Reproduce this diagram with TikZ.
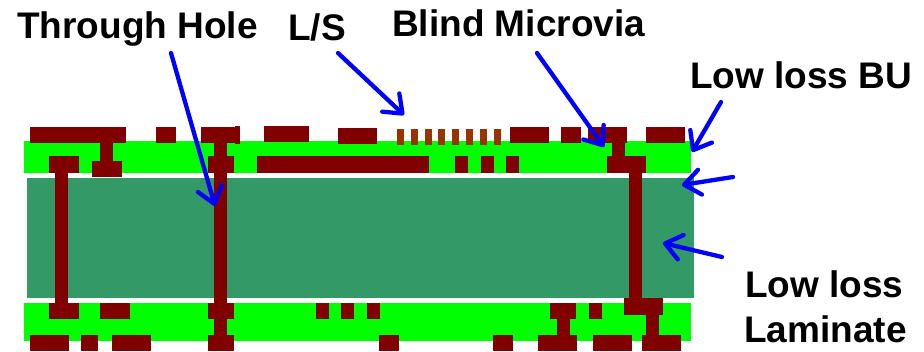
\documentclass[tikz,border=0pt]{standalone}
\usepackage{fontspec}
\setmainfont{Liberation Sans}
\usetikzlibrary{arrows.meta}
\definecolor{copper}{HTML}{800000}
\definecolor{lsline}{HTML}{993300}
\definecolor{bu}{HTML}{00FF00}
\definecolor{core}{HTML}{339966}
\definecolor{arrowblue}{HTML}{0000FF}
\tikzset{
  lbl/.style={anchor=base west,inner sep=0pt,font=\fontsize{37}{37}\selectfont\bfseries,text=black},
  callout/.style={draw=arrowblue,line width=4.3pt,line cap=round,line join=round,
    -{Straight Barb[length=16pt,width=25pt,line cap=round,round]}},
}
\newcommand{\R}[5]{\fill[#1] (#2,#3) rectangle (#4,#5);}
\begin{document}
\begin{tikzpicture}[x=1pt,y=-1pt]
\useasboundingbox (0,0) rectangle (924,351);
% dielectric layers
\R{bu}{24}{141}{691}{173}
\R{core}{27}{178}{694}{298}
\R{bu}{24}{303}{691}{341}
% top outer pads
\foreach \a/\b/\c/\d in {30/126/127/143,156/176/127/143,201/235/127/143,235/240/126/144,264/309/126/142,338/377/128/144,510/549/127/143,561/581/127/143,588/627/127/143,646/685/127/143}
  {\R{copper}{\a}{\c}{\b}{\d}}
% fine lines
\foreach \a in {397,411,425,438,452,466,480,494}
  {\pgfmathsetmacro{\e}{\a+7}\R{lsline}{\a}{129}{\e}{145}}
% top inner pads and microvias
\foreach \a/\b/\c/\d in {100/113/143/161,92/122/161/177,49/79/156/173,208/234/156/173,257/429/156/173,455/468/156/173,481/494/156/173,506/519/156/173,607/646/156/173,612/625/143/156}
  {\R{copper}{\a}{\c}{\b}{\d}}
% through vias
\foreach \a/\b/\c/\d in {55/68/173/303,214/227/143/335,629/642/173/298}
  {\R{copper}{\a}{\c}{\b}{\d}}
% bottom inner pads and microvias
\foreach \a/\b/\c/\d in {49/79/303/319,100/130/303/319,208/234/303/319,316/329/303/319,341/354/303/319,367/380/303/319,550/576/303/319,589/602/303/319,557/570/319/335,624/663/298/315,646/659/315/335}
  {\R{copper}{\a}{\c}{\b}{\d}}
% bottom outer pads
\foreach \a/\b in {30/69,81/98,112/151,208/234,379/399,493/513,538/577,593/632,642/681}
  {\R{copper}{\a}{335}{\b}{351}}
% labels
\node[lbl] (th) at (17,38.5) {Through Hole};
\node[lbl] (ls) at (288,40) {L/S};
\node[lbl] (bm) at (392,36) {Blind Microvia};
\node[lbl] (bu) at (690,88) {Low loss BU};
\node[lbl] (ll1) at (745,297) {Low loss};
\node[lbl] (ll2) at (744,342) {Laminate};
% arrows
\coordinate (a1s) at (171,53);  \coordinate (a1e) at (215,206);
\coordinate (a2s) at (338,53);  \coordinate (a2e) at (404,115);
\coordinate (a3s) at (537,53);  \coordinate (a3e) at (604,147);
\coordinate (a4s) at (721,102); \coordinate (a4e) at (692,152);
\coordinate (a5s) at (733,177); \coordinate (a5e) at (682,185);
\coordinate (a6s) at (722,257); \coordinate (a6e) at (663,243);
\foreach \n in {1,...,6}{\draw[callout] (a\n s) -- (a\n e);}
\end{tikzpicture}
\end{document}
